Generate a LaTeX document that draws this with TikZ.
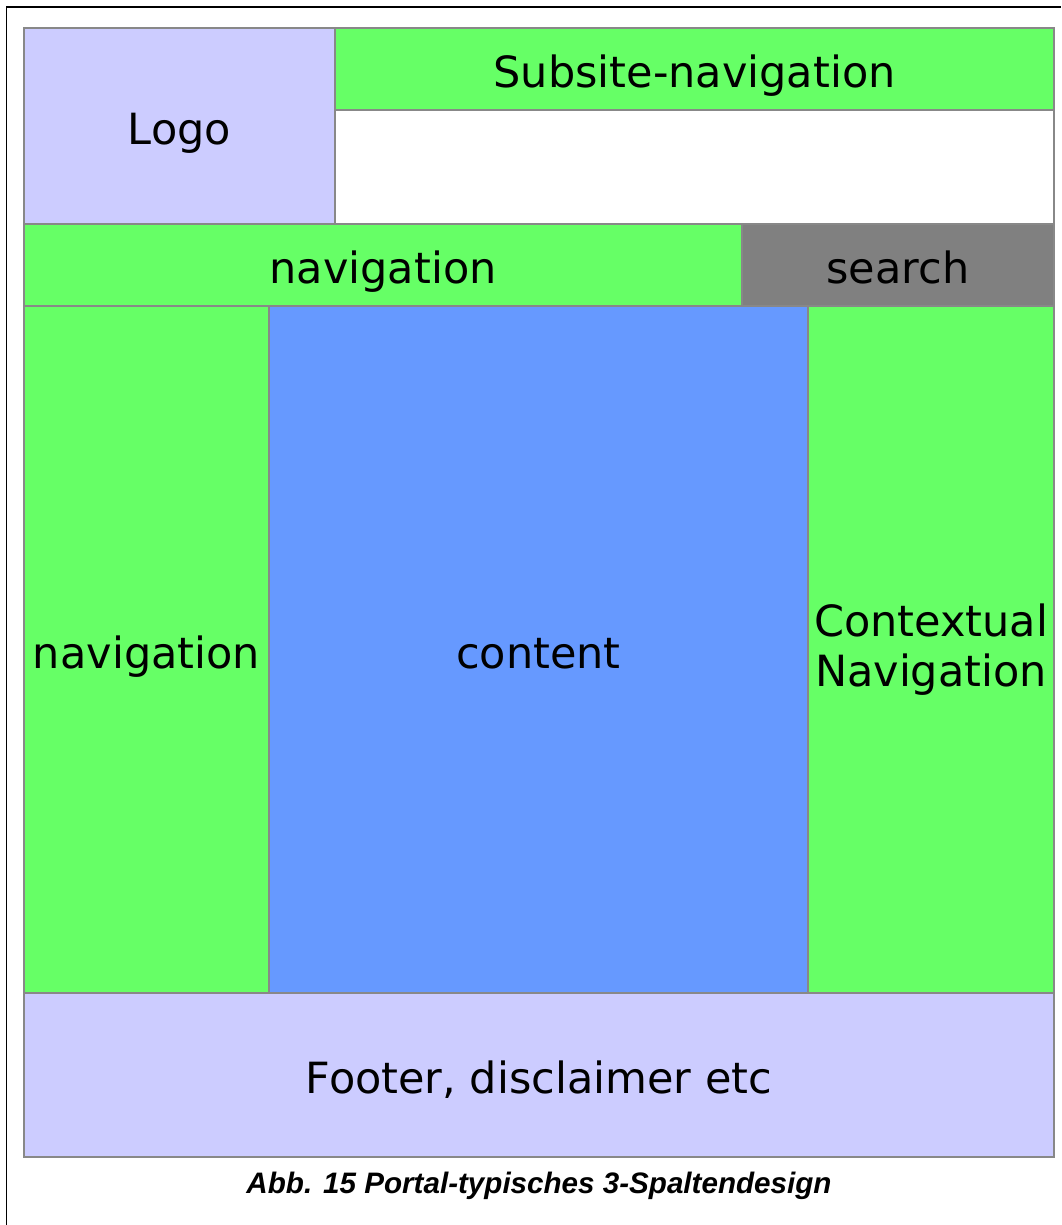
\documentclass[tikz,border=0pt]{standalone}
\usepackage{fontspec}
\setmainfont{DejaVu Sans}
\newfontfamily\capfont{Liberation Sans}
\definecolor{lav}{HTML}{CCCCFF}
\definecolor{grn}{HTML}{66FF66}
\definecolor{blu}{HTML}{6699FF}
\definecolor{gry}{HTML}{808080}
\definecolor{edge}{HTML}{888888}
\begin{document}
\begin{tikzpicture}[x=1pt,y=-1pt,
  box/.style={draw=edge, line width=2pt, rectangle, inner sep=0pt, outer sep=0pt, anchor=north west,
    font=\fontsize{43}{50}\selectfont, text=black, align=center, text height=43pt, text depth=6pt},
  frame/.style={draw=black, line width=1.3pt}]
\useasboundingbox (0,0) rectangle (1061,1225);
\fill[white] (0,0) rectangle (1061,1225);
\coordinate (fa) at (6.5,1225);
\coordinate (fb) at (6.5,7);
\coordinate (fc) at (1061,7);
\draw[frame] (fa) -- (fb) -- (fc);
\node[box, fill=lav, minimum width=311pt, minimum height=196pt] (logo) at (24,28) {Logo};
\node[box, fill=white, minimum width=719pt, minimum height=114pt] (blank) at (335,110) {};
\node[box, fill=grn, minimum width=719pt, minimum height=82pt] (subnav) at (335,28) {Subsite-navigation};
\node[box, fill=grn, minimum width=718pt, minimum height=82pt] (topnav) at (24,224) {navigation};
\node[box, fill=gry, minimum width=312pt, minimum height=82pt] (search) at (742,224) {search};
\node[box, fill=grn, minimum width=245pt, minimum height=687pt] (leftnav) at (24,306) {navigation};
\node[box, fill=blu, minimum width=539pt, minimum height=687pt] (content) at (269,306) {content};
\node[box, fill=grn, minimum width=246pt, minimum height=687pt, text height=, text depth=] (ctxnav) at (808,306) {Contextual\\Navigation};
\node[box, fill=lav, minimum width=1030pt, minimum height=164pt] (footer) at (24,993) {Footer, disclaimer etc};
\node[font=\capfont\bfseries\itshape\fontsize{29.6}{32}\selectfont, inner sep=0pt, anchor=base] (cap) at (539,1193) {Abb. 15 Portal-typisches 3-Spaltendesign};
\end{tikzpicture}
\end{document}
